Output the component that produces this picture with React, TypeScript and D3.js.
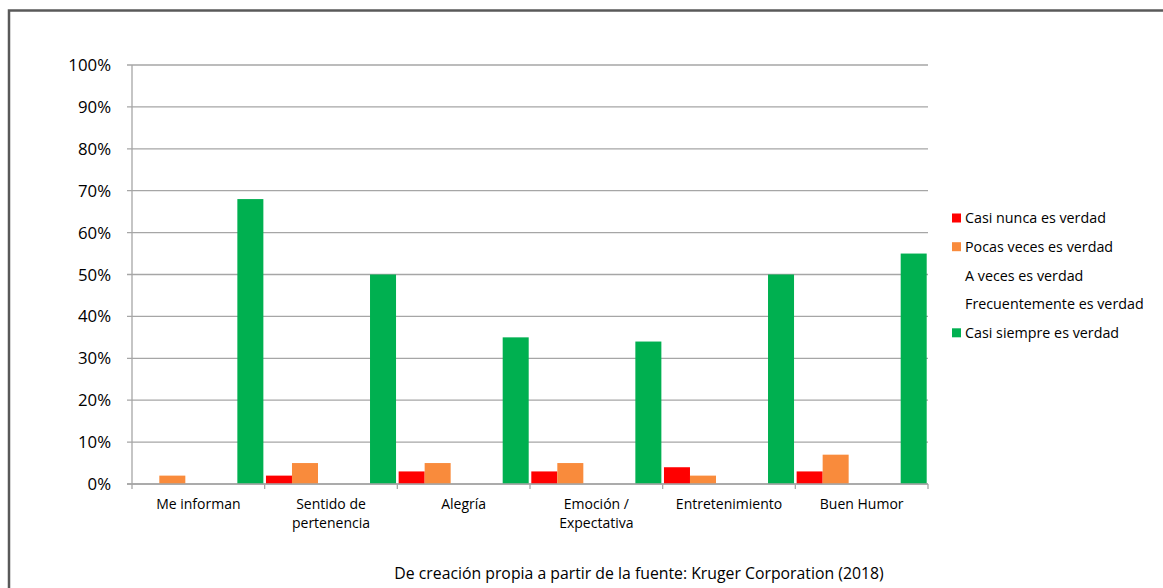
import React from "react";
import * as d3 from "d3";

const categories: string[][] = [
  ["Me informan"],
  ["Sentido de", "pertenencia"],
  ["Alegría"],
  ["Emoción /", "Expectativa"],
  ["Entretenimiento"],
  ["Buen Humor"],
];

const seriesNames = [
  "Casi nunca es verdad",
  "Pocas veces es verdad",
  "A veces es verdad",
  "Frecuentemente es verdad",
  "Casi siempre es verdad",
];

const seriesColors = ["#FF0000", "#F98B3C", "none", "none", "#00B050"];

const casiNunca = [0, 2, 3, 3, 4, 3];
const pocasVeces = [2, 5, 5, 5, 2, 7];
const aVeces = [0, 0, 0, 0, 0, 0];
const frecuentemente = [0, 0, 0, 0, 0, 0];
const casiSiempre = [68, 50, 35, 34, 50, 55];

const yTicks = [0, 10, 20, 30, 40, 50, 60, 70, 80, 90, 100];

const sourceNote = "De creación propia a partir de la fuente: Kruger Corporation (2018)";

const seriesValues = [casiNunca, pocasVeces, aVeces, frecuentemente, casiSiempre];

const W = 1163;
const H = 588;
const FONT = "'Open Sans', 'Noto Sans', sans-serif";

export default function App() {
  const plotLeft = 132;
  const plotRight = 928;
  const plotTop = 65;
  const plotBottom = 484;

  const x0 = d3
    .scaleBand<number>()
    .domain(categories.map((_, i) => i))
    .range([plotLeft, plotRight])
    .paddingInner(0)
    .paddingOuter(0);

  const x1 = d3
    .scaleBand<number>()
    .domain(seriesNames.map((_, i) => i))
    .range([0, x0.bandwidth()])
    .paddingOuter(0.05)
    .paddingInner(0);

  const y = d3.scaleLinear().domain([0, 100]).range([plotBottom, plotTop]);

  const legendX = 952;
  const legendY0 = 218;
  const legendStep = 28.7;

  return (
    <svg
      width={W}
      height={H}
      style={{ position: "absolute", left: 0, top: 0, background: "#fff" }}
      fontFamily={FONT}
    >
      <rect x={0} y={0} width={W} height={H} fill="#fff" />
      {/* outer frame */}
      <path d={`M9,${H + 5} L9,10.5 L${W + 5},10.5`} fill="none" stroke="#595959" strokeWidth={2.5} />

      {/* gridlines and y ticks */}
      {yTicks.map((t) => (
        <g key={t}>
          <line x1={127} x2={plotRight} y1={y(t)} y2={y(t)} stroke="#A6A6A6" strokeWidth={1.3} />
          <text x={111} y={y(t)} dy="0.36em" textAnchor="end" fontSize={16.8} fill="#000">
            {t}%
          </text>
        </g>
      ))}

      {/* y axis */}
      <line x1={plotLeft} x2={plotLeft} y1={plotTop} y2={plotBottom + 5} stroke="#A6A6A6" strokeWidth={1.3} />

      {/* category tick marks */}
      {categories.map((_, i) => (
        <line
          key={i}
          x1={(x0(i) as number) + x0.bandwidth()}
          x2={(x0(i) as number) + x0.bandwidth()}
          y1={plotBottom}
          y2={plotBottom + 5}
          stroke="#A6A6A6"
          strokeWidth={1.3}
        />
      ))}

      {/* bars */}
      {categories.map((_, ci) => (
        <g key={ci} transform={`translate(${x0(ci)},0)`}>
          {seriesValues.map((vals, si) =>
            seriesColors[si] === "none" || vals[ci] === 0 ? null : (
              <rect
                key={si}
                x={x1(si)}
                width={x1.bandwidth()}
                y={y(vals[ci])}
                height={plotBottom - y(vals[ci])}
                fill={seriesColors[si]}
              />
            )
          )}
        </g>
      ))}

      {/* baseline drawn over the bars */}
      <line x1={127} x2={plotRight} y1={plotBottom} y2={plotBottom} stroke="#A6A6A6" strokeWidth={1.3} />

      {/* category labels */}
      {categories.map((lines, i) => (
        <text
          key={i}
          x={(x0(i) as number) + x0.bandwidth() / 2}
          y={509}
          textAnchor="middle"
          fontSize={14}
          fill="#000"
        >
          {lines.map((l, li) => (
            <tspan key={li} x={(x0(i) as number) + x0.bandwidth() / 2} dy={li === 0 ? 0 : 19}>
              {l}
            </tspan>
          ))}
        </text>
      ))}

      {/* legend */}
      {seriesNames.map((name, i) => (
        <g key={name} transform={`translate(${legendX},${legendY0 + i * legendStep})`}>
          {seriesColors[i] !== "none" && <rect x={0} y={-4.5} width={9} height={9} fill={seriesColors[i]} />}
          <text x={13} y={0} dy="0.36em" fontSize={14.3} fill="#000">
            {name}
          </text>
        </g>
      ))}

      {/* source note */}
      <text x={639} y={579} textAnchor="middle" fontSize={15.8} fill="#000">
        {sourceNote}
      </text>
    </svg>
  );
}
